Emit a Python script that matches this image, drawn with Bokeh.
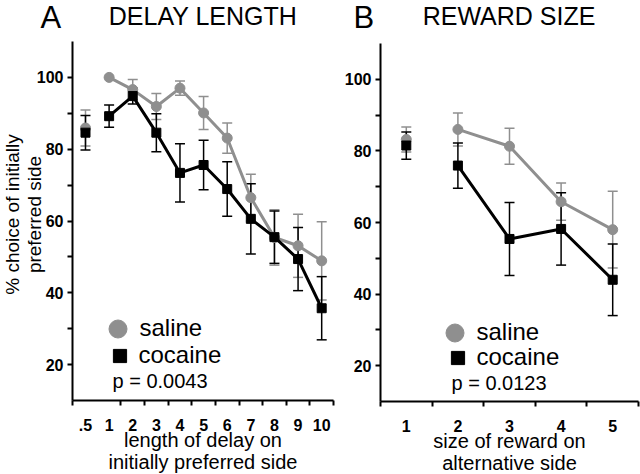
import math
from bokeh.plotting import figure
from bokeh.layouts import row
from bokeh.models import (Range1d, FixedTicker, Whisker, TeeHead, ColumnDataSource,
                          Legend, LegendItem, Label)
from bokeh.embed import file_html
from bokeh.resources import INLINE

# ---------------- data ----------------
# Panel A: delay length
delay_labels = [".5", "1", "2", "3", "4", "5", "6", "7", "8", "9", "10"]
delay_pos = [0, 1, 2, 3, 4, 5, 6, 7, 8, 9, 10]
saline_delay = [85.9, 100.0, 96.6, 91.9, 97.0, 90.1, 83.1, 66.5, 55.4, 53.1, 48.9]
saline_delay_err = [5.0, 0.0, 2.8, 3.6, 2.0, 4.6, 4.2, 6.5, 7.7, 8.8, 10.9]
cocaine_delay = [84.6, 89.2, 94.8, 84.6, 73.4, 75.6, 68.9, 60.6, 55.5, 49.4, 35.7]
cocaine_delay_err = [4.8, 3.1, 2.2, 5.3, 8.1, 6.9, 7.6, 9.8, 7.3, 8.8, 8.8]

# Panel B: reward size
reward_labels = ["1", "2", "3", "4", "5"]
reward_pos = [1, 2, 3, 4, 5]
saline_reward = [83.2, 86.0, 81.3, 65.8, 58.0]
saline_reward_err = [3.5, 4.6, 5.0, 5.2, 10.7]
cocaine_reward = [81.5, 75.9, 55.4, 58.2, 44.0]
cocaine_reward_err = [3.8, 6.3, 10.2, 10.1, 10.0]

y_major = [20, 40, 60, 80, 100]
y_minor = [30, 50, 70, 90]
Y_LO, Y_HI = 10, 110

FONT = "Liberation Sans"
GRAY = "#8f8f8f"
BLACK = "#000000"


class Mapper:
    """Pixel <-> data mapping of one figure whose frame fills the canvas."""
    def __init__(self, w, h, page_x0, px0, px1, dx0, dx1, py_top, py_bot, dy_top, dy_bot):
        self.w, self.h, self.page_x0 = w, h, page_x0
        self.kx = (px1 - px0) / (dx1 - dx0)
        self.ky = (py_bot - py_top) / (dy_top - dy_bot)
        self.px0, self.dx0, self.py_top, self.dy_top = px0, dx0, py_top, dy_top

    def x(self, px):
        return self.dx0 + (px - self.px0) / self.kx

    def y(self, py):
        return self.dy_top - (py - self.py_top) / self.ky

    def ranges(self):
        return Range1d(self.x(0), self.x(self.w)), Range1d(self.y(self.h), self.y(0))


def style_axes(p, xlo, xhi):
    p.xgrid.visible = False
    p.ygrid.visible = False
    p.outline_line_color = None
    for ax in (p.xaxis[0], p.yaxis[0]):
        ax.axis_line_width = 2
        ax.axis_line_color = BLACK
        ax.major_tick_line_width = 2
        ax.minor_tick_line_width = 2
        ax.major_tick_line_color = BLACK
        ax.minor_tick_line_color = BLACK
        ax.major_tick_in = 0
        ax.minor_tick_in = 0
        ax.major_label_text_font = FONT
        ax.major_label_text_font_size = "16px"
        ax.major_label_text_font_style = "bold"
        ax.major_label_text_color = BLACK
    p.yaxis.ticker = FixedTicker(ticks=y_major, minor_ticks=y_minor)
    p.yaxis.bounds = (Y_LO, Y_HI)
    p.yaxis.fixed_location = xlo
    p.yaxis.major_tick_out = 5
    p.yaxis.minor_tick_out = 5
    p.yaxis.major_label_standoff = 4
    p.xaxis.bounds = (xlo, xhi)
    p.xaxis.fixed_location = Y_LO
    p.xaxis.major_tick_out = 0
    p.xaxis.minor_tick_out = 5
    p.xaxis.major_label_standoff = 13
    p.xaxis.axis_label_text_font = FONT
    p.xaxis.axis_label_text_font_size = "20px"
    p.xaxis.axis_label_text_font_style = "normal"
    p.xaxis.axis_label_text_color = BLACK
    p.xaxis.axis_label_text_line_height = 1.0
    p.xaxis.axis_label_standoff = -5


def add_series(p, xs, ys, errs, color, marker, size, with_line_from):
    upper = [y + e for y, e in zip(ys, errs)]
    lower = [y - e for y, e in zip(ys, errs)]
    src = ColumnDataSource(dict(x=xs, y=ys, upper=upper, lower=lower))
    w = Whisker(source=src, base="x", upper="upper", lower="lower",
                line_color=color, line_width=1.5, level="underlay",
                upper_head=TeeHead(size=10, line_color=color, line_width=1.5),
                lower_head=TeeHead(size=10, line_color=color, line_width=1.5))
    p.add_layout(w)
    p.line(xs[with_line_from:], ys[with_line_from:], line_color=color, line_width=3)
    r = p.scatter(xs, ys, marker=marker, size=size, fill_color=color, line_color=color)
    return r


def add_legend(p, m, renderer, label, cx, cy, box, standoff):
    # legend box positioned so the glyph is centred on pixel (cx, cy)
    leg = Legend(items=[LegendItem(label=label, renderers=[renderer])],
                 location=(cx - box / 2 - m.page_x0, m.h - (cy + box / 2)),
                 glyph_width=box, glyph_height=box,
                 label_standoff=standoff, padding=0, margin=0, spacing=0,
                 border_line_color=None, background_fill_alpha=0,
                 label_text_font=FONT, label_text_font_size="24px",
                 label_text_color=BLACK, label_height=10)
    p.add_layout(leg)


def text(p, m, px, py, s, size_px, align="left", baseline="alphabetic", angle=0.0, lh=1.2):
    # empirical correction: alphabetic-baseline labels render ~0.4em low
    if baseline == "alphabetic":
        py = py - 0.4 * size_px
    p.add_layout(Label(x=m.x(px - m.page_x0), y=m.y(py), text=s, angle=angle,
                       text_font=FONT, text_font_size=f"{size_px}px", text_align=align,
                       text_baseline=baseline, text_line_height=lh, text_color=BLACK))


# ---------------- Panel A ----------------
XA_LO, XA_HI = -0.55, 10.5
ma = Mapper(340, 474, 0, 72, 333, XA_LO, XA_HI, 41, 400, Y_HI, Y_LO)
xr, yr = ma.ranges()
pa = figure(width=340, height=474, output_backend="svg", toolbar_location=None,
            x_range=xr, y_range=yr, min_border=0, min_border_left=0,
            min_border_right=0, min_border_top=0, min_border_bottom=0,
            background_fill_color="white", border_fill_color="white")
style_axes(pa, XA_LO, XA_HI)
pa.xaxis.ticker = FixedTicker(ticks=delay_pos,
                              minor_ticks=[XA_LO] + [v + 0.5 for v in delay_pos[1:]])
pa.xaxis.major_label_overrides = {v: s for v, s in zip(delay_pos, delay_labels)}
pa.xaxis.axis_label = "length of delay on\ninitially preferred side"

sal_a = add_series(pa, delay_pos, saline_delay, saline_delay_err, GRAY, "circle", 10, 1)
coc_a = add_series(pa, delay_pos, cocaine_delay, cocaine_delay_err, BLACK, "square", 9, 1)
add_legend(pa, ma, sal_a, "saline", 117, 328, 45, 0)
add_legend(pa, ma, coc_a, "cocaine", 119, 355, 33, 3)

text(pa, ma, 40, 29, "A", 31)
text(pa, ma, 202.5, 25.5, "DELAY LENGTH", 25, align="center")
text(pa, ma, 23, 214, "% choice of initially\npreferred side", 19,
     align="center", baseline="middle", angle=math.pi / 2, lh=1.05)
text(pa, ma, 112, 388, "p = 0.0043", 20)

# ---------------- Panel B ----------------
XB_LO, XB_HI = 0.5, 5.5
mb = Mapper(300, 474, 340, 40, 298, XB_LO, XB_HI, 43, 401, Y_HI, Y_LO)
xr, yr = mb.ranges()
pb = figure(width=300, height=474, output_backend="svg", toolbar_location=None,
            x_range=xr, y_range=yr, min_border=0, min_border_left=0,
            min_border_right=0, min_border_top=0, min_border_bottom=0,
            background_fill_color="white", border_fill_color="white")
style_axes(pb, XB_LO, XB_HI)
pb.xaxis.ticker = FixedTicker(ticks=reward_pos,
                              minor_ticks=[v - 0.5 for v in reward_pos] + [reward_pos[-1] + 0.5])
pb.xaxis.major_label_overrides = {v: s for v, s in zip(reward_pos, reward_labels)}
pb.xaxis.axis_label = "size of reward on\nalternative side"

sal_b = add_series(pb, reward_pos, saline_reward, saline_reward_err, GRAY, "circle", 10, 1)
coc_b = add_series(pb, reward_pos, cocaine_reward, cocaine_reward_err, BLACK, "square", 9, 1)
add_legend(pb, mb, sal_b, "saline", 454, 332, 45, 0)
add_legend(pb, mb, coc_b, "cocaine", 457, 357, 33, 3)

text(pb, mb, 353, 29, "B", 31)
text(pb, mb, 508.5, 25.5, "REWARD SIZE", 25, align="center")
text(pb, mb, 451, 390, "p = 0.0123", 20)

layout = row(pa, pb)
open("out.html", "w").write(file_html(layout, INLINE))
